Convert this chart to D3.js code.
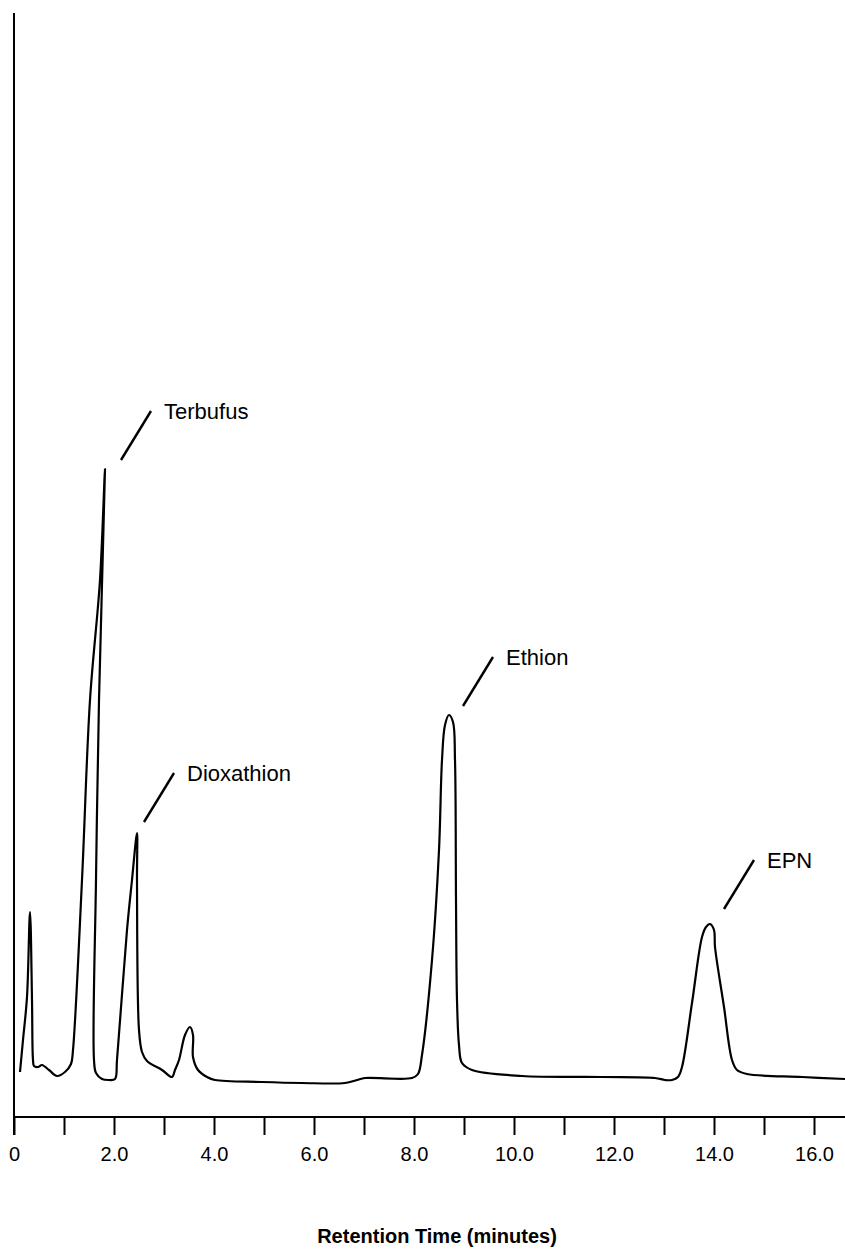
<html>
<head>
<script src="https://d3js.org/d3.v7.min.js"></script>
<style>
  body { margin: 0; background: #fff; }
  text { font-family: "Liberation Sans", Arial, sans-serif; fill: #000; }
</style>
</head>
<body>
<svg id="chart" width="845" height="1253"></svg>
<script>
// chromatogram trace (time in minutes, detector response in arbitrary units)
const traceTime = [0.12, 0.18, 0.26, 0.32, 0.36, 0.38, 0.40, 0.48, 0.56, 0.70, 0.86, 1.02, 1.14, 1.18,
  1.36, 1.52, 1.72, 1.82, 1.70, 1.64, 1.60, 1.64, 1.76, 1.90, 2.02, 2.06, 2.26, 2.36, 2.46, 2.46,
  2.50, 2.56, 2.66, 2.96, 3.16, 3.22, 3.30, 3.42, 3.52, 3.58, 3.58, 3.68, 3.86, 4.02, 4.96, 5.76,
  6.62, 6.86, 7.02, 7.96, 8.08, 8.16, 8.36, 8.50, 8.56, 8.62, 8.70, 8.78, 8.82, 8.84, 8.86, 8.90,
  8.96, 9.16, 10.16, 11.76, 12.82, 13.02, 13.16, 13.28, 13.36, 13.56, 13.76, 13.84, 13.92, 14.00,
  14.02, 14.20, 14.36, 14.46, 14.66, 15.76, 16.62];
const traceSignal = [45, 77, 120, 205, 117, 57, 51, 50, 52, 47, 41, 45, 53, 67,
  237, 417, 537, 648, 417, 237, 57, 44, 38, 37, 38, 57, 187, 237, 284, 237,
  87, 65, 56, 47, 40, 47, 57, 82, 90, 82, 60, 47, 40, 37, 35, 34,
  34, 37, 39, 39, 43, 62, 157, 267, 357, 392, 402, 395, 357, 217, 117, 72,
  54, 47, 41, 40, 39, 37, 37, 40, 50, 114, 180, 190, 193, 187,
  170, 110, 57, 47, 43, 40, 38];

// labelled peaks (where the leader line points)
const peakNames = ["Terbufus", "Dioxathion", "Ethion", "EPN"];
const peakTimes = [1.86, 2.32, 8.70, 13.92];
const peakSignal = [646, 284, 400, 197];

// x axis
const tickValues = d3.range(0, 17, 1);
const tickLabels = ["0", "", "2.0", "", "4.0", "", "6.0", "", "8.0", "", "10.0", "", "12.0", "", "14.0", "", "16.0"];
const xTitle = "Retention Time (minutes)";

const svg = d3.select("#chart");
const axisY = 1117;

const xScale = d3.scaleLinear().domain([0, 16.62]).range([14, 845]);
const yScale = d3.scaleLinear().domain([0, 1104]).range([axisY, 13]);

// y axis is just a plain vertical line, no ticks
svg.append("line")
   .attr("x1", xScale(0)).attr("x2", xScale(0))
   .attr("y1", yScale(1104)).attr("y2", axisY + 18)
   .attr("stroke", "#000").attr("stroke-width", 2);

// bottom axis
const bottomAxis = d3.axisBottom(xScale)
   .tickValues(tickValues)
   .tickSize(18)
   .tickSizeOuter(0)
   .tickPadding(12)
   .tickFormat((d, i) => tickLabels[i]);

const gx = svg.append("g")
   .attr("transform", `translate(0,${axisY})`)
   .call(bottomAxis);
gx.select(".domain").attr("stroke", "#000").attr("stroke-width", 2)
   .attr("d", `M${xScale(0)},0H845`);
gx.selectAll(".tick line").attr("stroke", "#000").attr("stroke-width", 2);
gx.selectAll(".tick text")
   .style("font-family", '"Liberation Sans", Arial, sans-serif')
   .style("font-size", "20px")
   .attr("fill", "#000");

svg.append("text")
   .attr("x", 437).attr("y", 1243)
   .attr("text-anchor", "middle")
   .style("font-size", "20px")
   .style("font-weight", "bold")
   .text(xTitle);

// the trace itself
const trace = traceTime.map((t, i) => ({ t: t, v: traceSignal[i] }));
const lineGen = d3.line()
   .x(d => xScale(d.t))
   .y(d => yScale(d.v))
   .curve(d3.curveCatmullRom.alpha(0.5));

svg.append("path")
   .attr("d", lineGen(trace))
   .attr("fill", "none")
   .attr("stroke", "#000")
   .attr("stroke-width", 2.2)
   .attr("stroke-linejoin", "round");

// peak labels with slanted leader lines
const peaks = peakNames.map((n, i) => ({ name: n, x: xScale(peakTimes[i]), y: yScale(peakSignal[i]) }));
const lab = svg.selectAll(".peak-label").data(peaks).join("g").attr("class", "peak-label");

lab.append("line")
   .attr("x1", d => d.x + 14).attr("y1", d => d.y - 11)
   .attr("x2", d => d.x + 44).attr("y2", d => d.y - 60)
   .attr("stroke", "#000").attr("stroke-width", 2.4);

lab.append("text")
   .attr("x", d => d.x + 57).attr("y", d => d.y - 52)
   .style("font-size", "22px")
   .text(d => d.name);
</script>
</body>
</html>
